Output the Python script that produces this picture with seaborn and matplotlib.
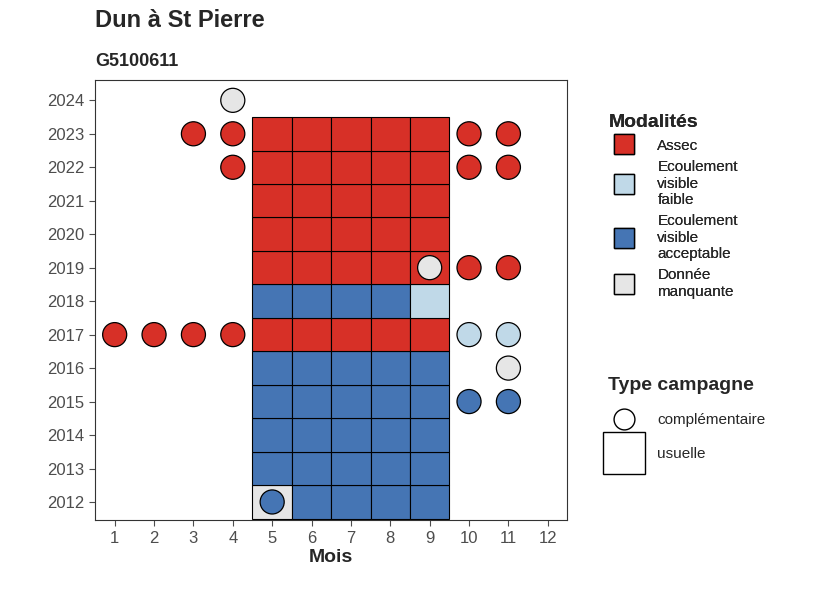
import matplotlib
matplotlib.use("Agg")
import matplotlib.pyplot as plt
import seaborn as sns
import pandas as pd
from matplotlib.lines import Line2D

# usual campaigns (tiles)
usual_years = [2012]*5 + [y for y in range(2013, 2024) for _ in range(5)]
usual_months = [5, 6, 7, 8, 9] * 12
usual_codes = (["NA", "EA", "EA", "EA", "EA"]
               + ["EA"]*5*4
               + ["AS"]*5
               + ["EA", "EA", "EA", "EA", "EF"]
               + ["AS"]*5*5)

# complementary campaigns (points)
comp_years = [2024, 2023, 2023, 2023, 2023, 2022, 2022, 2022, 2019, 2019, 2019,
              2017, 2017, 2017, 2017, 2017, 2017, 2016, 2015, 2015, 2012]
comp_months = [4, 3, 4, 10, 11, 4, 10, 11, 9, 10, 11,
               1, 2, 3, 4, 10, 11, 11, 10, 11, 5]
comp_codes = ["NA", "AS", "AS", "AS", "AS", "AS", "AS", "AS", "NA", "AS", "AS",
              "AS", "AS", "AS", "AS", "EF", "EF", "NA", "EA", "EA", "EA"]

labels = {"AS": "Assec", "EF": "Ecoulement\nvisible\nfaible",
          "EA": "Ecoulement\nvisible\nacceptable", "NA": "Donnée\nmanquante"}
palette = {"AS": "#d73027", "EF": "#c0d9e8", "EA": "#4575b4", "NA": "#e6e6e6"}

usual = pd.DataFrame({"year": usual_years, "month": usual_months, "code": usual_codes})
comp = pd.DataFrame({"year": comp_years, "month": comp_months, "code": comp_codes})

sns.set_style("white")
plt.rcParams["font.family"] = ["Liberation Sans", "DejaVu Sans"]

fig = plt.figure(figsize=(8.26, 5.9), dpi=100)
ax = fig.add_axes([0.115, 0.118, 0.572, 0.746])

ax.bar(usual["month"], 1, bottom=usual["year"] - 0.5, width=1,
       color=usual["code"].map(palette), edgecolor="black", linewidth=0.8)
sns.scatterplot(data=comp, x="month", y="year", hue="code", palette=palette,
                s=300, edgecolor="black", linewidth=0.9, legend=False, ax=ax, zorder=3)

ax.set_xlim(0.5, 12.5)
ax.set_ylim(2011.45, 2024.6)
ax.set_xticks(range(1, 13))
ax.set_yticks(range(2012, 2025))
ax.tick_params(labelsize=12, colors="#4d4d4d", length=4, left=True, bottom=True)
for s in ax.spines.values():
    s.set_color("#333333")
    s.set_linewidth(0.8)
ax.set_xlabel("Mois", fontsize=14, fontweight="bold", labelpad=2)
ax.set_ylabel("")

fig.text(0.115, 0.955, "Dun à St Pierre", fontsize=17, fontweight="bold")
fig.text(0.115, 0.888, "G5100611", fontsize=13, fontweight="bold")

h1 = [Line2D([], [], marker="s", linestyle="", markersize=14, markerfacecolor=palette[k],
             markeredgecolor="black") for k in ["AS", "EF", "EA", "NA"]]
leg1 = fig.legend(h1, [labels[k] for k in ["AS", "EF", "EA", "NA"]], title="Modalités",
                  loc="upper left", bbox_to_anchor=(0.72, 0.83), frameon=False,
                  fontsize=11, title_fontproperties={"weight": "bold", "size": 14},
                  labelspacing=0.5, handletextpad=1.2, alignment="left")
h2 = [Line2D([], [], marker="o", linestyle="", markersize=15, markerfacecolor="white",
             markeredgecolor="black"),
      Line2D([], [], marker="s", linestyle="", markersize=30, markerfacecolor="white",
             markeredgecolor="black")]
fig.legend(h2, ["complémentaire", "usuelle"], title="Type campagne",
           loc="upper left", bbox_to_anchor=(0.72, 0.385), frameon=False,
           fontsize=11, title_fontproperties={"weight": "bold", "size": 14},
           labelspacing=1.3, handletextpad=1.2, alignment="left")
fig.add_artist(leg1)

fig.savefig("out.png", dpi=100)
